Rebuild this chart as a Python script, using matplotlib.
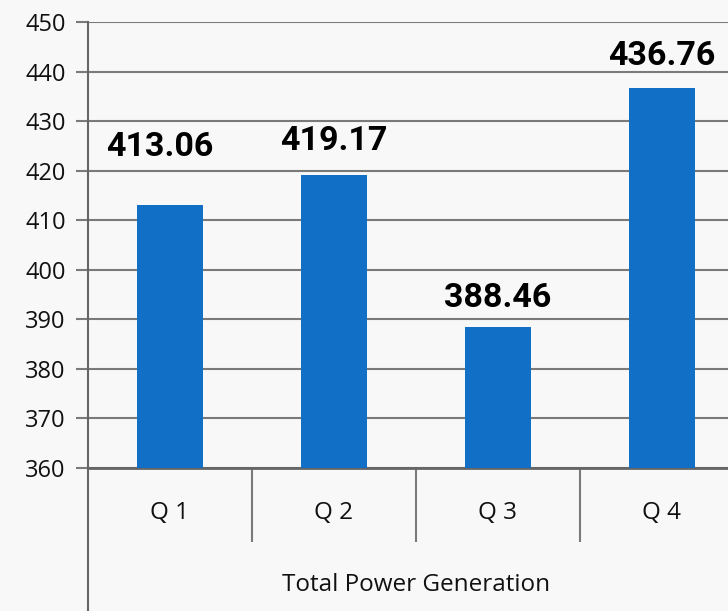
import matplotlib
matplotlib.use("Agg")
import matplotlib.pyplot as plt
from matplotlib.lines import Line2D

categories = ["Q 1", "Q 2", "Q 3", "Q 4"]
values = [413.06, 419.17, 388.46, 436.76]
value_labels = ["413.06", "419.17", "388.46", "436.76"]
y_ticks = [360, 370, 380, 390, 400, 410, 420, 430, 440, 450]
x_title = "Total Power Generation"

# label offsets (points) above the bar tops
label_dx = [-7, 0, 0, 0]
label_dy = [42, 24, 21, 23]

bar_color = "#1170C6"
grid_color = "#7a7a7a"
bg = "#f8f8f8"

fig = plt.figure(figsize=(7.28, 6.11), dpi=100, facecolor=bg)
ax = fig.add_axes([88/728, 143/611, 656/728, 446/611])
ax.set_facecolor(bg)

x = list(range(len(categories)))
ax.bar(x, [v - y_ticks[0] for v in values], bottom=y_ticks[0], width=0.4,
       color=bar_color, zorder=3)

ax.set_xlim(-0.5, len(categories) - 0.5)
ax.set_ylim(y_ticks[0], y_ticks[-1])
ax.set_yticks(y_ticks)
ax.yaxis.grid(True, color=grid_color, linewidth=1.5, zorder=0)
ax.set_axisbelow(True)

bold_fam = ["Roboto", "DejaVu Sans"]
light = ["Open Sans", "Lato", "DejaVu Sans"]

ax.tick_params(axis="y", length=9, width=1.5, color=grid_color, pad=7,
               labelsize=17)
for t in ax.get_yticklabels():
    t.set_fontfamily(light)
    t.set_color("#111111")

ax.set_xticks(x)
ax.set_xticklabels(categories, fontsize=17.5, family=light, color="#111111")
ax.tick_params(axis="x", which="major", length=0, pad=24)
ax.set_xticks([i + 0.5 for i in x[:-1]], minor=True)
ax.tick_params(axis="x", which="minor", length=53, width=1.5, color=grid_color)

for s in ["top", "right"]:
    ax.spines[s].set_visible(False)
ax.spines["bottom"].set_color("#666666")
ax.spines["bottom"].set_linewidth(2)
ax.spines["left"].set_visible(False)
ax.add_line(Line2D([0, 0], [-0.33, 1.0], transform=ax.transAxes, color="#666666",
                   linewidth=1.5, clip_on=False, zorder=5))

for xi, v, lab, dx, dy in zip(x, values, value_labels, label_dx, label_dy):
    ax.annotate(lab, (xi, v), xytext=(dx, dy), textcoords="offset points",
                ha="center", va="center", fontsize=24.5, fontweight="bold",
                family=bold_fam, color="#000000")

ax.text(0.5, -0.262, x_title, transform=ax.transAxes, ha="center", va="center",
        fontsize=17.5, family=light, color="#111111")

fig.savefig("out.png", dpi=100, facecolor=bg)
